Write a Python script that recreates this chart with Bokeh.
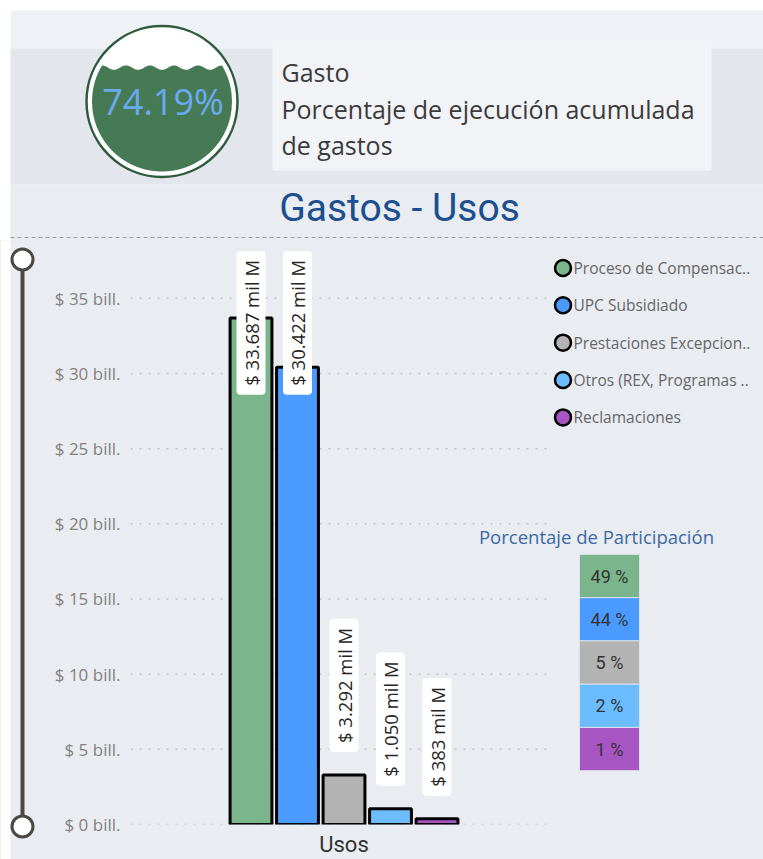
import numpy as np
from math import pi
from bokeh.plotting import figure
from bokeh.layouts import column, row
from bokeh.models import Range1d, FixedTicker
from bokeh.core.properties import value
from bokeh.embed import file_html
from bokeh.resources import INLINE

# ---------------- data ----------------
series = ["Proceso de Compensación", "UPC Subsidiado", "Prestaciones Excepcionales",
          "Otros (REX, Programas ...)", "Reclamaciones"]
legend_labels = ["Proceso de Compensac..", "UPC Subsidiado", "Prestaciones Excepcion..",
                 "Otros (REX, Programas ..", "Reclamaciones"]
values_bill = [33.687, 30.422, 3.292, 1.050, 0.383]
value_labels = ["$ 33.687 mil M", "$ 30.422 mil M", "$ 3.292 mil M", "$ 1.050 mil M", "$ 383 mil M"]
share_labels = ["49 %", "44 %", "5 %", "2 %", "1 %"]
colors = ["#7bb58b", "#4a9aff", "#b3b3b3", "#6cbdff", "#a855c4"]
y_ticks = [0, 5, 10, 15, 20, 25, 30, 35]
y_tick_labels = ["$ 0 bill.", "$ 5 bill.", "$ 10 bill.", "$ 15 bill.", "$ 20 bill.",
                 "$ 25 bill.", "$ 30 bill.", "$ 35 bill."]
category = "Usos"
gauge_value = 74.19
gauge_label = "74.19%"
header_title = "Gasto"
header_lines = ["Porcentaje de ejecución acumulada", "de gastos"]
chart_title = "Gastos - Usos"
share_title = "Porcentaje de Participación"

# ---------------- style ----------------
BG = "#e9ecf1"
W = 763
OS = value("Open Sans")
RB = value("Roboto")

# ---------------- header ----------------
hdr = figure(width=W, height=240, x_range=Range1d(0, W), y_range=Range1d(240, 0),
             x_axis_type=None, y_axis_type=None, output_backend="svg",
             toolbar_location=None, min_border=0)
hdr.frame_align = False
hdr.grid.visible = False
hdr.outline_line_color = None
hdr.background_fill_color = "white"
hdr.border_fill_color = "white"

hdr.quad(left=[10, 10, 10, 272], right=[W, W, W, 711],
         top=[10, 48, 184, 40], bottom=[48, 184, 241, 170],
         color=["#eef1f6", "#e3e6ec", BG, "#f1f3f7"], line_color=None)

cx, cy = 161.5, 101.0
hdr.circle(x=[cx], y=[cy], radius=75.5, fill_color="white",
           line_color="#2e5b3b", line_width=2.5)
r_in = 70.0
level = cy + r_in - 2 * r_in * gauge_value / 100.0
xs = np.linspace(cx - r_in, cx + r_in, 300)
half = np.sqrt(np.clip(r_in ** 2 - (xs - cx) ** 2, 0, None))
wave = level + 2.2 * np.sin(2 * pi * (xs - cx) / 24.0 + pi / 2)
upper = np.maximum(wave, cy - half)
lower = cy + half
hdr.patch(x=np.concatenate([xs, xs[::-1]]), y=np.concatenate([upper, lower[::-1]]),
          fill_color="#467a54", line_color=None)
hdr.text(x=[cx + 1], y=[cy], text=[gauge_label], text_align="center", text_baseline="middle",
         text_font=OS, text_font_size="36px", text_color="#6aabf0")

hdr.text(x=[281], y=[71], text=[header_title], text_align="left", text_baseline="middle",
         text_font=OS, text_font_size="25px", text_color="#3b3b3b")
hdr.text(x=[281, 281], y=[108, 144], text=header_lines, text_align="left",
         text_baseline="middle", text_font=OS, text_font_size="25px", text_color="#3b3b3b")

hdr.text(x=[399], y=[207], text=[chart_title], text_align="center", text_baseline="middle",
         text_font=RB, text_font_size="39px", text_color="#1c4f8f")
hdr.segment(x0=[10], x1=[W], y0=[237], y1=[237], line_color="#9a9a9a",
            line_dash="4 3", line_width=1)

# ---------------- slider ----------------
RH = 859 - 240
sl = figure(width=40, height=RH, x_range=Range1d(0, 40), y_range=Range1d(859, 240),
            x_axis_type=None, y_axis_type=None, output_backend="svg",
            toolbar_location=None, min_border=0)
sl.frame_align = False
sl.grid.visible = False
sl.outline_line_color = None
sl.background_fill_color = BG
sl.border_fill_color = BG
sl.quad(left=[0], right=[10], top=[239], bottom=[860], color="white", line_color=None)
sl.segment(x0=[22], x1=[22], y0=[259], y1=[826], line_color="#4b4846", line_width=4)
sl.scatter(x=[22, 22], y=[259, 826], size=21, fill_color="white",
           line_color="#4b4846", line_width=3)

# ---------------- chart ----------------
PITCH = 46.5
FRAME_L, FRAME_R = 130, W
X0 = -(250.5 - FRAME_L) / PITCH
X1 = X0 + (FRAME_R - FRAME_L) / PITCH
PX_PER_BILL = 528 / 35.0
YMAX = (826 - 245) / PX_PER_BILL
LABEL_CAP = 27.05

idx = list(range(len(values_bill)))
ch = figure(width=W - 40, height=RH, x_range=Range1d(X0, X1), y_range=Range1d(0, YMAX),
            output_backend="svg", toolbar_location=None,
            min_border_left=FRAME_L - 40, min_border_right=0, min_border_top=5,
            min_border_bottom=859 - 826)
ch.frame_align = False
ch.extra_x_ranges = {"px": Range1d(FRAME_L, FRAME_R)}
ch.extra_y_ranges = {"px": Range1d(826, 245)}
ch.grid.visible = False
ch.outline_line_color = None
ch.background_fill_color = BG
ch.border_fill_color = BG

# dotted gridlines only under the bar area
ch.segment(x0=[X0] * len(y_ticks), x1=[X0 + (547 - FRAME_L) / PITCH] * len(y_ticks),
           y0=y_ticks, y1=y_ticks,
           line_color="#c2c2c2", line_dash="2 7", line_width=1.5)

ch.vbar(x=idx, top=values_bill, width=0.9, fill_color=colors,
        line_color="black", line_width=3)

label_y = [min(v, LABEL_CAP) for v in values_bill]
ch.text(x=idx, y=label_y, text=value_labels, angle=pi / 2, text_align="left",
        text_baseline="middle", y_offset=-23, text_font=OS, text_font_size="18.5px",
        text_color="#252423", background_fill_color="white",
        padding=dict(left=9, right=9, top=2, bottom=2), border_radius=4)

for ax in (ch.xaxis, ch.yaxis):
    ax.axis_line_color = None
    ax.major_tick_line_color = None
    ax.minor_tick_line_color = None
    ax.major_tick_out = 0
    ax.major_tick_in = 0
    ax.minor_tick_out = 0
    ax.minor_tick_in = 0

ch.yaxis.ticker = FixedTicker(ticks=y_ticks)
ch.yaxis.major_label_overrides = dict(zip(y_ticks, y_tick_labels))
ch.yaxis.major_label_text_font = "Open Sans"
ch.yaxis.major_label_text_font_size = "17px"
ch.yaxis.major_label_text_color = "#85817d"
ch.yaxis.major_label_standoff = 10

center = (len(values_bill) - 1) // 2
ch.xaxis.ticker = FixedTicker(ticks=[center])
ch.xaxis.major_label_overrides = {center: category}
ch.xaxis.major_label_text_font = "Roboto"
ch.xaxis.major_label_text_font_size = "22px"
ch.xaxis.major_label_text_color = "#333333"
ch.xaxis.major_label_standoff = 7

# legend
leg_y = [267.5 + 37.5 * i for i in idx]
ch.scatter(x=[562.5] * len(idx), y=leg_y, size=16, fill_color=colors,
           line_color="black", line_width=2.5, x_range_name="px", y_range_name="px")
ch.text(x=[573] * len(idx), y=leg_y, text=legend_labels, text_align="left",
        text_baseline="middle", text_font=OS, text_font_size="15.5px",
        text_color="#666666", x_range_name="px", y_range_name="px")

# share table
ch.text(x=[596], y=[537], text=[share_title], text_align="center", text_baseline="middle",
        text_font=OS, text_font_size="18.5px", text_color="#3b6aa3",
        x_range_name="px", y_range_name="px")
cell_y = [576.7 + 43.4 * i for i in idx]
ch.rect(x=[609] * len(idx), y=cell_y, width=60, height=43.4, fill_color=colors,
        line_color="#dde1e8", line_width=1, x_range_name="px", y_range_name="px")
ch.text(x=[609] * len(idx), y=cell_y, text=share_labels, text_align="center",
        text_baseline="middle", text_font=RB, text_font_size="18px",
        text_color="#333333", x_range_name="px", y_range_name="px")

lower_row = row(sl, ch, spacing=0, styles={"background-color": BG})
layout = column(hdr, lower_row, spacing=0)

open("out.html", "w").write(file_html(layout, INLINE, title="Gastos - Usos"))
